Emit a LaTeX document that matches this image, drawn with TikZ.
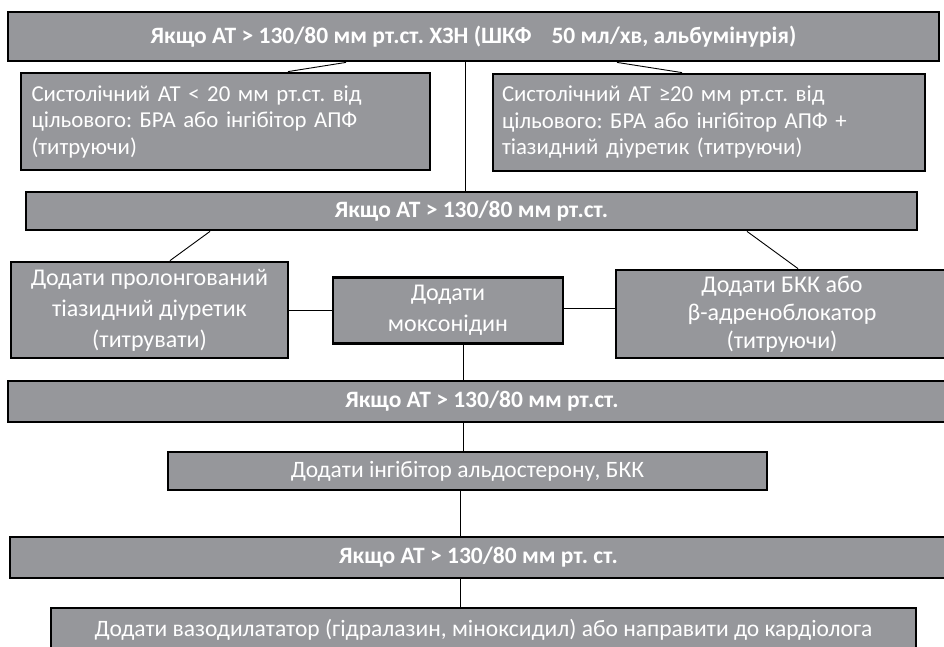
\documentclass[tikz,border=0pt]{standalone}
\usepackage{fontspec}
\setmainfont{Carlito}
\definecolor{boxgray}{RGB}{150,151,155}

\begin{document}
\frenchspacing
\begin{tikzpicture}[x=1pt,y=-1pt,
		box/.style={draw=black,line width=2.8pt,fill=boxgray,text=white,inner sep=0pt},
		hdr/.style={box,font=\bfseries\fontsize{23.5}{27}\selectfont},
		note/.style={box,align=left,font=\fontsize{22.8}{26.5}\selectfont},
		step4/.style={box,align=center,font=\fontsize{24}{31}\selectfont},
		link/.style={draw=black,line width=0.9pt}]
	\useasboundingbox (0,0) rectangle (944,646);
	\node[hdr,minimum width=931pt,minimum height=49pt] (top) at (473.5,36.5) {Якщо АТ > 130/80 мм рт.ст. ХЗН (ШКФ\hspace{20pt}50 мл/хв, альбумінурія)};
	\node[note,minimum width=409pt,minimum height=97pt,text width=388pt] (l2) at (225.5,121.5) {Систолічний АТ < 20 мм рт.ст. від\\цільового: БРА або інгібітор АПФ\\(титруючи)};
	\node[note,minimum width=432pt,minimum height=97pt,text width=414pt] (r2) at (709,122.5) {Систолічний АТ ≥20 мм рт.ст. від\\цільового: БРА або інгібітор АПФ +\\тіазидний діуретик (титруючи)};
	\node[hdr,minimum width=891pt,minimum height=38pt] (b3) at (471.5,211) {Якщо АТ > 130/80 мм рт.ст.};
	\node[step4,minimum width=277pt,minimum height=96pt] (l4) at (149.5,310) {Додати пролонгований\\тіазидний діуретик\\(титрувати)};
	\node[step4,minimum width=230pt,minimum height=66pt] (c4) at (448,310.5) {Додати\\моксонідин};
	\node[step4,minimum width=332pt,minimum height=88pt,font=\fontsize{24}{28}\selectfont] (r4) at (782,314) {Додати БКК або\\β-адреноблокатор\\(титруючи)};
	\node[hdr,minimum width=948pt,minimum height=41pt] (b5) at (482,401.5) {Якщо АТ > 130/80 мм рт.ст.};
	\node[box,minimum width=599pt,minimum height=38pt,font=\fontsize{23.5}{28}\selectfont] (b6) at (467.5,471) {Додати інгібітор альдостерону, БКК};
	\node[hdr,minimum width=937pt,minimum height=41pt] (b7) at (478.5,557.5) {Якщо АТ > 130/80 мм рт. ст.};
	\node[box,minimum width=865pt,minimum height=44pt,font=\fontsize{23.5}{28}\selectfont] (b8) at (483.5,630) {Додати вазодилататор (гідралазин, міноксидил) або направити до кардіолога};
	\draw[link] ([xshift=-127.5pt]top.south) -- ([xshift=62.5pt]l2.north);
	\draw[link] ([xshift=143.5pt]top.south) -- ([xshift=-27pt]r2.north);
	\draw[link] ([xshift=-8.5pt]top.south) -- ([xshift=-8.5pt]top.south |- b3.north);
	\draw[link] ([xshift=-261.5pt]b3.south) -- ([xshift=20.5pt]l4.north);
	\draw[link] ([xshift=275.5pt]b3.south) -- ([xshift=16pt]r4.north);
	\draw[link] (l4.east |- c4.west) -- (c4.west);
	\draw[link] ([yshift=2.5pt]c4.east) -- ([yshift=2.5pt]c4.east -| r4.west);
	\draw[link] ([xshift=15pt]c4.south) -- ([xshift=15pt]c4.south |- b5.north);
	\draw[link] ([xshift=-19pt]b5.south) -- ([xshift=-19pt]b5.south |- b6.north);
	\draw[link] ([xshift=-7.5pt]b6.south) -- ([xshift=-7.5pt]b6.south |- b7.north);
	\draw[link] ([xshift=-7.5pt]b6.south |- b7.south) -- ([xshift=-7.5pt]b6.south |- b8.north);
\end{tikzpicture}
\end{document}
